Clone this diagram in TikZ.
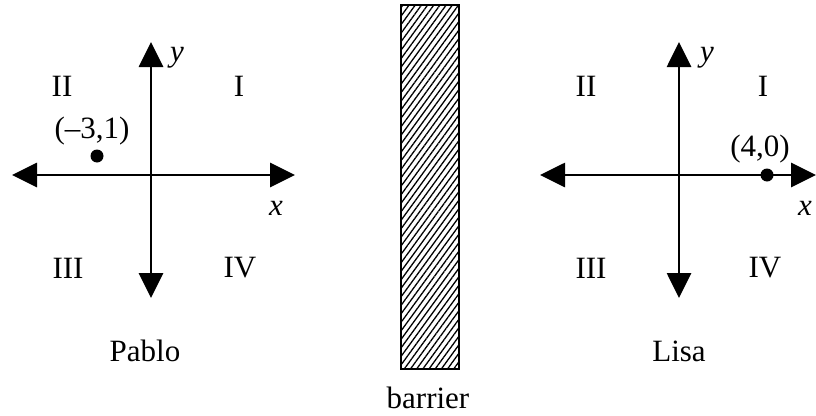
\documentclass[tikz,border=0pt]{standalone}
\usepackage{fontspec}
\setmainfont{Liberation Serif}
\usetikzlibrary{arrows.meta, patterns.meta}

\begin{document}
\begin{tikzpicture}[
    x=1pt, y=-1pt,
    axis/.style={{Triangle[length=25pt,width=24pt]}-{Triangle[length=25pt,width=24pt]}, line width=2.8pt},
    quad/.style={font=\fontsize{31}{33}\selectfont, inner sep=0pt},
    var/.style={font=\fontsize{31}{33}\selectfont\itshape, inner sep=0pt},
    dot/.style={circle, fill=black, inner sep=0pt, minimum size=13pt}
]
\useasboundingbox (0,0) rectangle (816,415);

% Pablo's axes
\coordinate (pW) at (12,175);
\coordinate (pE) at (295,175);
\coordinate (pN) at (151,42);
\coordinate (pS) at (151,298);
\draw[axis] (pW) -- (pE);
\draw[axis] (pS) -- (pN);

\node[var]  (py)    at (177,58)  {y};
\node[var]  (px)    at (276,208) {x};
\node[quad] (pII)   at (62,86)   {II};
\node[quad] (pI)    at (239,86)  {I};
\node[quad] (pIII)  at (68,268)  {III};
\node[quad] (pIV)   at (240,268) {IV};
\node[dot]  (pdot)  at (97,156)  {};
\node[quad] (ppt)   at (92,131)  {(–3,1)};
\node[quad] (pablo) at (145,351) {Pablo};

% barrier
\node[draw, line width=2.8pt, minimum width=58pt, minimum height=364pt, inner sep=0pt,
      pattern={Lines[angle=54, distance=5pt, line width=1.3pt]}] (wall) at (430,187) {};
\node[quad] (wallname) at (428,398) {barrier};

% Lisa's axes
\coordinate (lW) at (540,175);
\coordinate (lE) at (816,175);
\coordinate (lN) at (679,42);
\coordinate (lS) at (679,298);
\draw[axis] (lW) -- (lE);
\draw[axis] (lS) -- (lN);

\node[var]  (ly)   at (707,58)  {y};
\node[var]  (lx)   at (805,208) {x};
\node[quad] (lII)  at (586,86)  {II};
\node[quad] (lI)   at (763,86)  {I};
\node[quad] (lIII) at (591,268) {III};
\node[quad] (lIV)  at (765,268) {IV};
\node[dot]  (ldot) at (767,175) {};
\node[quad] (lpt)  at (760,149) {(4,0)};
\node[quad] (lisa) at (679,351) {Lisa};

\end{tikzpicture}
\end{document}
